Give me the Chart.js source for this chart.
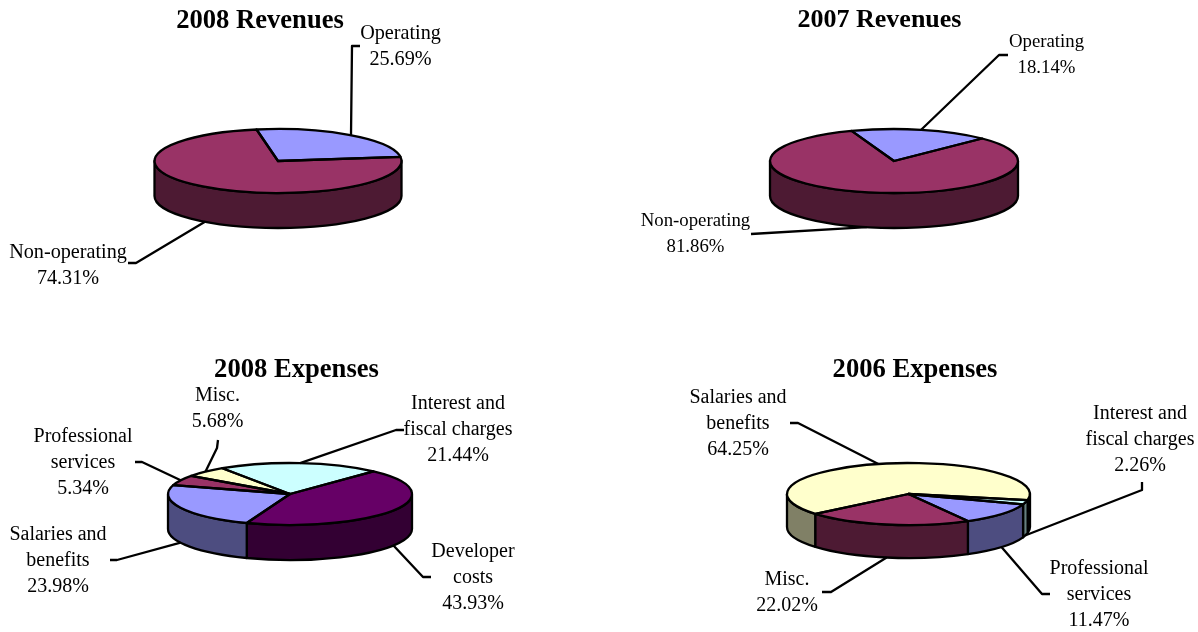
<!DOCTYPE html>
<html>
<head>
<meta charset="utf-8">
<title>Revenues and Expenses</title>
<script src="https://cdn.jsdelivr.net/npm/chart.js@4"></script>
<style>
html, body { margin: 0; padding: 0; background: #fff; }
#page { position: relative; width: 1198px; height: 632px; overflow: hidden; }
canvas { position: absolute; }
</style>
</head>
<body>
<div id="page"></div>
<script>
// data, clockwise in the order the slices appear
var rev2008Labels = [['Operating'], ['Non-operating']];
var rev2008Values = [25.69, 74.31];
var rev2008Colors = ['#9999FF', '#993366'];

var rev2007Labels = [['Operating'], ['Non-operating']];
var rev2007Values = [18.14, 81.86];
var rev2007Colors = ['#9999FF', '#993366'];

var exp2008Labels = [['Interest and', 'fiscal charges'], ['Developer', 'costs'], ['Salaries and', 'benefits'], ['Professional', 'services'], ['Misc.']];
var exp2008Values = [21.44, 43.93, 23.98, 5.34, 5.68];
var exp2008Colors = ['#CCFFFF', '#660066', '#9999FF', '#993366', '#FFFFCC'];

var exp2006Labels = [['Salaries and', 'benefits'], ['Interest and', 'fiscal charges'], ['Professional', 'services'], ['Misc.']];
var exp2006Values = [64.25, 2.26, 11.47, 22.02];
var exp2006Colors = ['#FFFFCC', '#CCFFFF', '#9999FF', '#993366'];

// layout: leader = elbow x, elbow y, end x, end y; text = centre x, first line y
var panels = [
    { title: '2008 Revenues', titleX: 260, titleY: 21, titleSize: 26.6, textSize: 20.2, labels: rev2008Labels, values: rev2008Values, colors: rev2008Colors,
      box: [0, 0, 600, 340], cx: 278, cy: 161, rx: 123.5, ry: 32, depth: 35, rotation: -10,
      leaders: [[352, 46, 360, 46], [136, 263, 128, 263]],
      texts: [[400.5, 34], [68, 252.5]] },
    { title: '2007 Revenues', titleX: 879.5, titleY: 20, titleSize: 26, textSize: 18.8, labels: rev2007Labels, values: rev2007Values, colors: rev2007Colors,
      box: [600, 0, 598, 340], cx: 894, cy: 161, rx: 124, ry: 32, depth: 35, rotation: -20,
      leaders: [[999, 55, 1008, 55], [751, 234, 751, 234]],
      texts: [[1046.5, 42.5], [695.5, 221.5]] },
    { title: '2008 Expenses', titleX: 296.5, titleY: 370, titleSize: 26.6, textSize: 20, labels: exp2008Labels, values: exp2008Values, colors: exp2008Colors,
      box: [0, 340, 600, 292], cx: 290, cy: 494, rx: 122, ry: 31, depth: 35, rotation: -33.7,
      leaders: [[396, 430, 404, 430], [423, 577, 431, 577], [117, 560, 110, 560], [142, 462, 135, 462], [217, 448, 218, 440]],
      texts: [[458, 404], [473, 552], [58, 535], [83, 437], [217.5, 396]] },
    { title: '2006 Expenses', titleX: 915, titleY: 370, titleSize: 26.6, textSize: 20, labels: exp2006Labels, values: exp2006Values, colors: exp2006Colors,
      box: [600, 340, 598, 292], cx: 908.5, cy: 494, rx: 121.5, ry: 31, depth: 33, rotation: 230,
      leaders: [[798, 423, 790, 423], [1142, 490, 1142, 482], [1042, 594, 1050, 594], [831, 592, 822, 592]],
      texts: [[738, 398], [1140, 414], [1099, 569], [787, 580]] }
];

var LINE_GAP = 26;
var LINE_WIDTH = 2.3;

Chart.defaults.font.family = '"Liberation Serif", "Times New Roman", serif';

function darker(hex) {
    var n = parseInt(hex.slice(1), 16);
    var r = (n >> 16) & 255, g = (n >> 8) & 255, b = n & 255;
    return 'rgb(' + Math.round(r / 2) + ',' + Math.round(g / 2) + ',' + Math.round(b / 2) + ')';
}

function squash(ctx, arc, p) {
    ctx.translate(arc.x, arc.y);
    ctx.scale(1, p.ry / p.rx);
    ctx.translate(-arc.x, -arc.y);
}

function drawWalls(ctx, arcs, p) {
    var ry = p.ry;
    arcs.forEach(function(arc, i) {
        for (var k = -1; k <= 2; k++) {
            var from = Math.max(arc.startAngle, k * 2 * Math.PI);
            var to = Math.min(arc.endAngle, k * 2 * Math.PI + Math.PI);
            if (to <= from) continue;
            ctx.beginPath();
            ctx.ellipse(arc.x, arc.y, arc.outerRadius, ry, 0, from, to);
            ctx.ellipse(arc.x, arc.y + p.depth, arc.outerRadius, ry, 0, to, from, true);
            ctx.closePath();
            ctx.fillStyle = darker(p.colors[i]);
            ctx.fill();
            ctx.stroke();
        }
    });
}

function drawEdges(ctx, arcs, p) {
    arcs.forEach(function(arc) {
        ctx.save();
        squash(ctx, arc, p);
        ctx.beginPath();
        ctx.moveTo(arc.x, arc.y);
        ctx.arc(arc.x, arc.y, arc.outerRadius, arc.startAngle, arc.endAngle);
        ctx.closePath();
        ctx.restore();
        ctx.stroke();
    });
}

function drawLabels(ctx, arcs, p) {
    var ox = p.box[0], oy = p.box[1];
    ctx.font = p.textSize + 'px "Liberation Serif"';
    ctx.textAlign = 'center';
    ctx.textBaseline = 'middle';
    arcs.forEach(function(arc, i) {
        // leader starts on the rim at the middle of the slice
        var mid = (arc.startAngle + arc.endAngle) / 2;
        var sx = arc.x + arc.outerRadius * Math.cos(mid);
        var sy = arc.y + p.ry * Math.sin(mid);
        if (Math.sin(mid) > 0) sy += p.depth;
        var l = p.leaders[i];
        ctx.beginPath();
        ctx.moveTo(sx, sy);
        ctx.lineTo(l[0] - ox, l[1] - oy);
        ctx.lineTo(l[2] - ox, l[3] - oy);
        ctx.stroke();

        var lines = p.labels[i].concat(p.values[i].toFixed(2) + '%');
        ctx.fillStyle = '#000';
        lines.forEach(function(s, j) {
            ctx.fillText(s, p.texts[i][0] - ox, p.texts[i][1] - oy + j * LINE_GAP);
        });
    });
}

function tiltPlugin(p) {
    return {
        id: 'tilt',
        // the title block follows the pie's centre by default, move it where the picture has it
        afterLayout: function(chart) {
            var t = chart.titleBlock;
            var dx = p.titleX - p.box[0] - (t.left + t.right) / 2;
            t.left += dx;
            t.right += dx;
            t.top = p.titleY - p.box[1] - p.titleSize * 0.6;
        },
        beforeDatasetDraw: function(chart, args) {
            var ctx = chart.ctx;
            var arcs = args.meta.data;
            ctx.save();
            ctx.strokeStyle = '#000';
            ctx.lineWidth = LINE_WIDTH;
            ctx.lineJoin = 'round';
            drawWalls(ctx, arcs, p);
            ctx.restore();
            ctx.save();
            squash(ctx, arcs[0], p);
        },
        afterDatasetDraw: function(chart, args) {
            var ctx = chart.ctx;
            ctx.restore();
            ctx.save();
            ctx.strokeStyle = '#000';
            ctx.lineWidth = LINE_WIDTH;
            ctx.lineJoin = 'round';
            drawEdges(ctx, args.meta.data, p);
            drawLabels(ctx, args.meta.data, p);
            ctx.restore();
        }
    };
}

function renderPanel(p) {
    var canvas = document.createElement('canvas');
    var left = p.box[0], top = p.box[1], w = p.box[2], h = p.box[3];
    canvas.width = w;
    canvas.height = h;
    canvas.style.left = left + 'px';
    canvas.style.top = top + 'px';
    document.getElementById('page').appendChild(canvas);

    var titleH = p.titleSize * 1.2;
    new Chart(canvas, {
        type: 'pie',
        data: {
            labels: p.labels.map(function(l) { return l.join(' '); }),
            datasets: [{ data: p.values, backgroundColor: p.colors, borderWidth: 0, clip: false }]
        },
        options: {
            responsive: false,
            animation: false,
            rotation: p.rotation,
            layout: { padding: {
                left: p.cx - p.rx - left,
                right: left + w - p.cx - p.rx,
                top: p.cy - p.rx - top - titleH,
                bottom: top + h - p.cy - p.rx
            } },
            plugins: {
                legend: { display: false },
                tooltip: { enabled: false },
                title: { display: true, text: p.title, color: '#000', padding: 0, font: { size: p.titleSize, weight: 'bold', lineHeight: 1.2 } }
            }
        },
        plugins: [tiltPlugin(p)]
    });
}

panels.forEach(renderPanel);
</script>
</body>
</html>
